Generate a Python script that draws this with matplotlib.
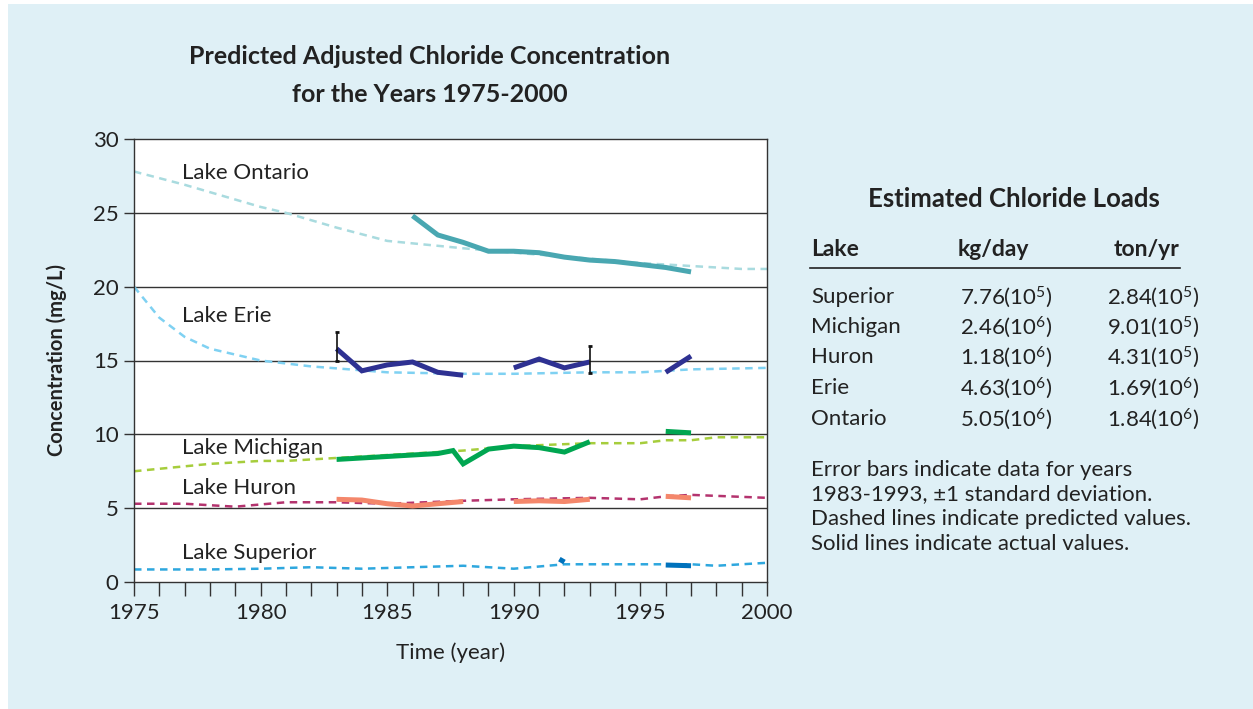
import matplotlib
matplotlib.use("Agg")
import matplotlib.pyplot as plt
from matplotlib.patches import Rectangle
import numpy as np

plt.rcParams['font.family'] = ['Lato', 'DejaVu Sans']
plt.rcParams['mathtext.fontset'] = 'custom'
plt.rcParams['mathtext.rm'] = 'Lato'
plt.rcParams['mathtext.it'] = 'Lato'

# ---------------- data ----------------
# predicted (dashed)
ont_pred_x = [1975, 1977, 1980, 1981, 1983, 1985, 1988, 1990, 1993, 1995, 1997, 1999, 2000]
ont_pred_y = [27.8, 26.9, 25.4, 25.0, 24.0, 23.1, 22.6, 22.3, 21.9, 21.6, 21.4, 21.2, 21.2]
erie_pred_x = [1975, 1976, 1977, 1978, 1980, 1982, 1985, 1988, 1990, 1993, 1995, 1997, 2000]
erie_pred_y = [20.0, 17.9, 16.6, 15.8, 15.0, 14.6, 14.2, 14.1, 14.1, 14.2, 14.2, 14.4, 14.5]
mich_pred_x = [1975, 1978, 1980, 1981, 1983, 1985, 1988, 1990, 1993, 1995, 1996, 1997, 1998, 2000]
mich_pred_y = [7.5, 8.0, 8.2, 8.2, 8.4, 8.6, 8.9, 9.2, 9.4, 9.4, 9.6, 9.6, 9.8, 9.8]
huron_pred_x = [1975, 1977, 1979, 1981, 1983, 1985, 1988, 1990, 1993, 1995, 1996, 1997, 2000]
huron_pred_y = [5.3, 5.3, 5.1, 5.4, 5.4, 5.3, 5.5, 5.6, 5.7, 5.6, 5.8, 5.9, 5.7]
sup_pred_x = [1975, 1978, 1980, 1982, 1984, 1986, 1988, 1990, 1992, 1995, 1997, 1998, 2000]
sup_pred_y = [0.85, 0.85, 0.9, 1.0, 0.9, 1.0, 1.1, 0.9, 1.2, 1.2, 1.2, 1.1, 1.3]

# actual (solid); NaN marks a gap in the record
ont_act_x = [1986, 1987, 1988, 1989, 1990, 1991, 1992, 1993, 1994, 1995, 1996, 1997]
ont_act_y = [24.8, 23.5, 23.0, 22.4, 22.4, 22.3, 22.0, 21.8, 21.7, 21.5, 21.3, 21.0]
erie_act_x = [1983, 1984, 1985, 1986, 1987, 1988, 1989, 1990, 1991, 1992, 1993, 1994, 1996, 1997]
erie_act_y = [15.8, 14.3, 14.7, 14.9, 14.2, 14.0, np.nan, 14.5, 15.1, 14.5, 14.9, np.nan, 14.2, 15.3]
mich_act_x = [1983, 1984, 1985, 1986, 1987, 1987.6, 1988, 1989, 1990, 1991, 1992, 1993, 1994, 1996, 1997]
mich_act_y = [8.3, 8.4, 8.5, 8.6, 8.7, 8.9, 8.0, 9.0, 9.2, 9.1, 8.8, 9.5, np.nan, 10.2, 10.1]
huron_act_x = [1983, 1984, 1985, 1986, 1987, 1988, 1989, 1990, 1991, 1992, 1993, 1994, 1996, 1997]
huron_act_y = [5.6, 5.55, 5.3, 5.15, 5.3, 5.45, np.nan, 5.45, 5.5, 5.45, 5.6, np.nan, 5.8, 5.7]
sup_act_x = [1991.8, 1992.0, 1994, 1996, 1997]
sup_act_y = [1.55, 1.35, np.nan, 1.15, 1.1]

# error bars (Lake Erie, +/- 1 SD)
err_x = [1983, 1993]
err_mean = [15.95, 15.07]
err_sd = [0.95, 0.93]

lake_labels = ["Lake Ontario", "Lake Erie", "Lake Michigan", "Lake Huron", "Lake Superior"]
label_y = [27.7, 18.0, 9.1, 6.35, 1.95]

table_lakes = ["Superior", "Michigan", "Huron", "Erie", "Ontario"]
kg_day = ["7.76(10$^5$)", "2.46(10$^6$)", "1.18(10$^6$)", "4.63(10$^6$)", "5.05(10$^6$)"]
ton_yr = ["2.84(10$^5$)", "9.01(10$^5$)", "4.31(10$^5$)", "1.69(10$^6$)", "1.84(10$^6$)"]

notes = ["Error bars indicate data for years",
         "1983-1993, \u00b11 standard deviation.",
         "Dashed lines indicate predicted values.",
         "Solid lines indicate actual values."]

# ---------------- figure ----------------
W, H = 1253, 709
fig = plt.figure(figsize=(W / 100, H / 100), dpi=100, facecolor='white')
bg = '#dff0f6'
fig.patches.append(Rectangle((8 / W, 0), 1 - 8 / W, 1 - 4 / H, transform=fig.transFigure,
                             facecolor=bg, edgecolor='none', zorder=-10))

ax = fig.add_axes([134 / W, 1 - 582 / H, (767 - 134) / W, (582 - 139) / H])
ax.set_facecolor('white')
ax.set_xlim(1975, 2000)
ax.set_ylim(0, 30)

for y in [5, 10, 15, 20, 25]:
    ax.axhline(y, color='#333333', lw=1.0, zorder=1)

dash = dict(lw=1.8, linestyle=(0, (3, 2.2)), zorder=2)
ax.plot(ont_pred_x, ont_pred_y, color='#a9dbdf', **dash)
ax.plot(erie_pred_x, erie_pred_y, color='#7fd1f2', **dash)
ax.plot(mich_pred_x, mich_pred_y, color='#a6cd3c', **dash)
ax.plot(huron_pred_x, huron_pred_y, color='#b4336e', **dash)
ax.plot(sup_pred_x, sup_pred_y, color='#2ea7de', **dash)

solid = dict(lw=3.6, solid_joinstyle='miter', solid_capstyle='butt', zorder=3)
ax.plot(ont_act_x, ont_act_y, color='#49a7b1', **solid)
ax.plot(erie_act_x, erie_act_y, color='#2e3192', **solid)
ax.plot(mich_act_x, mich_act_y, color='#00a651', **solid)
ax.plot(huron_act_x, huron_act_y, color='#f4876b', **solid)
ax.plot(sup_act_x, sup_act_y, color='#0072bc', **solid)

ax.errorbar(err_x, err_mean, yerr=err_sd, fmt='none', ecolor='#111111',
            elinewidth=1.2, capsize=1.5, capthick=2, zorder=4)

TXT = '#222222'
for t, yy in zip(lake_labels, label_y):
    ax.text(1976.9, yy, t, fontsize=16, color=TXT, va='center', ha='left', zorder=5)

ax.set_xticks([1975, 1980, 1985, 1990, 1995, 2000])
ax.set_xticks(np.arange(1975, 2001, 1), minor=True)
ax.set_yticks([0, 5, 10, 15, 20, 25, 30])
ax.tick_params(axis='x', which='both', direction='out', length=10, width=1, color='#333333',
               labelsize=16, pad=5, labelcolor=TXT)
ax.tick_params(axis='y', which='both', direction='out', length=7, width=1, color='#333333',
               labelsize=16, pad=4, labelcolor=TXT)
for s in ax.spines.values():
    s.set_color('#333333')
    s.set_linewidth(1.0)

ax.set_xlabel("Time (year)", fontsize=16, color=TXT, labelpad=14)
ax.set_ylabel("Concentration (mg/L)", fontsize=14.5, fontweight='bold', color=TXT, labelpad=19)

# title
fig.text(430 / W, 1 - 57 / H, "Predicted Adjusted Chloride Concentration", fontsize=18,
         fontweight='bold', ha='center', va='center', color=TXT)
fig.text(430 / W, 1 - 95 / H, "for the Years 1975-2000", fontsize=18,
         fontweight='bold', ha='center', va='center', color=TXT)

# table
fig.text(1014 / W, 1 - 199 / H, "Estimated Chloride Loads", fontsize=18.5, fontweight='bold',
         ha='center', va='center', color=TXT)
fig.text(811 / W, 1 - 250 / H, "Lake", fontsize=16.5, fontweight='bold', ha='left', va='center', color=TXT)
fig.text(993 / W, 1 - 250 / H, "kg/day", fontsize=16.5, fontweight='bold', ha='center', va='center', color=TXT)
fig.text(1180 / W, 1 - 250 / H, "ton/yr", fontsize=16.5, fontweight='bold', ha='right', va='center', color=TXT)
fig.lines.append(plt.Line2D([810 / W, 1180 / W], [1 - 268 / H, 1 - 268 / H], transform=fig.transFigure,
                            color=TXT, lw=1.2))
row_y = [297, 327, 357, 388, 419]
for name, kg, ton, ry in zip(table_lakes, kg_day, ton_yr, row_y):
    fig.text(811 / W, 1 - ry / H, name, fontsize=16, ha='left', va='center', color=TXT)
    fig.text(960 / W, 1 - ry / H, kg, fontsize=16, ha='left', va='center', color=TXT)
    fig.text(1107 / W, 1 - ry / H, ton, fontsize=16, ha='left', va='center', color=TXT)

for i, line in enumerate(notes):
    fig.text(811 / W, 1 - (470 + 24.5 * i) / H, line, fontsize=16, ha='left', va='center', color=TXT)

fig.savefig("out.png", dpi=100, facecolor=fig.get_facecolor())
